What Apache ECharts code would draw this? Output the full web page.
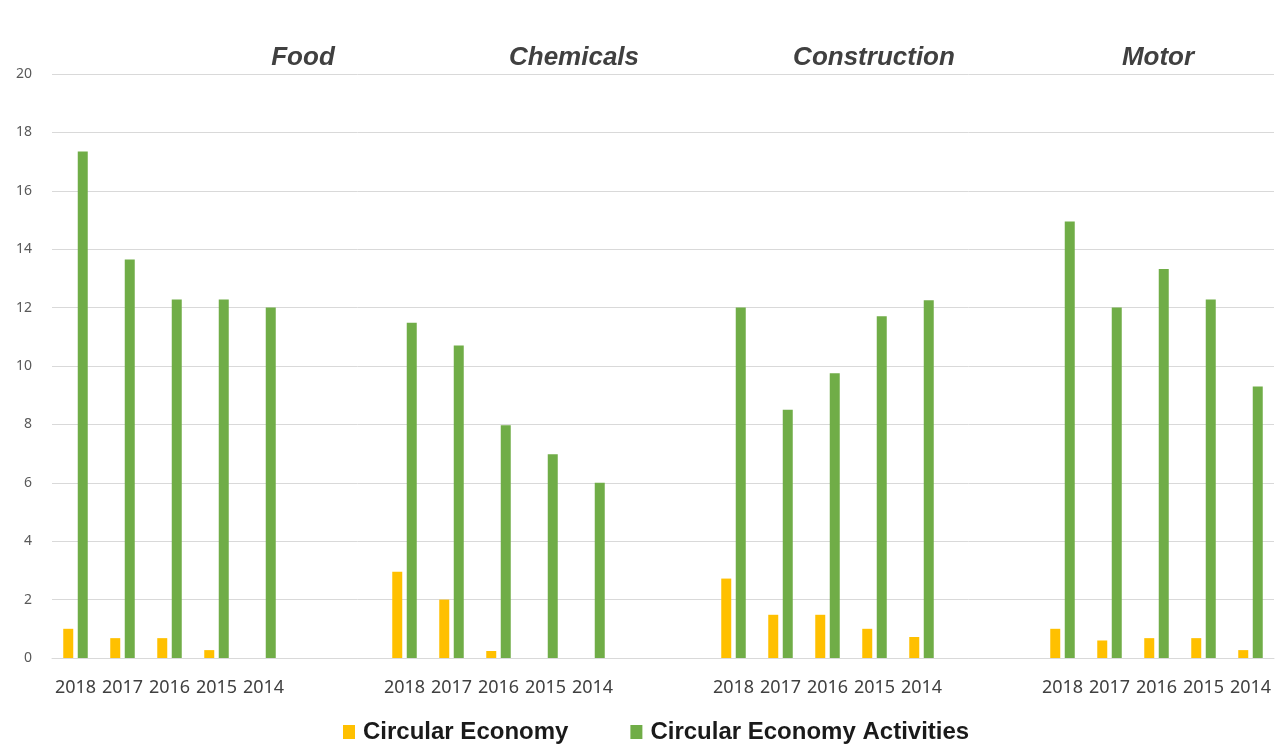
<!DOCTYPE html>
<html>
<head>
<meta charset="utf-8">
<script src="https://cdn.jsdelivr.net/npm/echarts@6/dist/echarts.min.js"></script>
<style>
  html, body { margin: 0; padding: 0; background: #ffffff; }
  #chart { width: 1278px; height: 745px; }
</style>
</head>
<body>
<div id="chart"></div>
<script>
// ---- data ----
const years = ['2018', '2017', '2016', '2015', '2014'];
const sectors = ['Food', 'Chemicals', 'Construction', 'Motor'];

const ceFood = [1.0, 0.68, 0.68, 0.27, 0];
const ceChemicals = [2.95, 2.0, 0.24, 0, 0];
const ceConstruction = [2.72, 1.48, 1.48, 1.0, 0.72];
const ceMotor = [1.0, 0.6, 0.68, 0.68, 0.27];

const ceaFood = [17.35, 13.65, 12.28, 12.28, 12.0];
const ceaChemicals = [11.48, 10.7, 7.97, 6.98, 6.0];
const ceaConstruction = [12.0, 8.5, 9.75, 11.7, 12.25];
const ceaMotor = [14.95, 12.0, 13.32, 12.28, 9.3];

const yTicks = [0, 2, 4, 6, 8, 10, 12, 14, 16, 18, 20];

// build category axis with two empty slots between sector groups
const gapSlots = 2;
function joinGroups(groups, filler) {
  const out = [];
  groups.forEach((g, i) => {
    out.push(...g);
    if (i < groups.length - 1) for (let k = 0; k < gapSlots; k++) out.push(filler);
  });
  return out;
}
const categories = joinGroups(sectors.map(() => years), '');
const ceData = joinGroups([ceFood, ceChemicals, ceConstruction, ceMotor], null);
const ceaData = joinGroups([ceaFood, ceaChemicals, ceaConstruction, ceaMotor], null);

// sector title placement (pixel centres)
const titleX = [303, 574, 874, 1158];

const chart = echarts.init(document.getElementById('chart'), null, { renderer: 'canvas' });
chart.setOption({
  backgroundColor: '#ffffff',
  animation: false,
  grid: { left: 52, right: 4, top: 74, bottom: 87, containLabel: false },
  legend: {
    top: 720,
    left: 343,
    padding: 0,
    itemWidth: 12,
    itemHeight: 14,
    itemGap: 62,
    icon: 'rect',
    textStyle: { fontFamily: 'Liberation Sans', fontWeight: 'bold', fontSize: 24, color: '#1a1a1a', padding: [0, 0, 0, 3] },
    data: ['Circular Economy', 'Circular Economy Activities']
  },
  xAxis: {
    type: 'category',
    data: categories,
    axisLine: { show: true, lineStyle: { color: '#d9d9d9', width: 1 } },
    axisTick: { show: false },
    axisLabel: {
      interval: 0,
      margin: 21,
      fontFamily: 'Noto Sans',
      fontSize: 18,
      color: '#404040'
    }
  },
  yAxis: {
    type: 'value',
    min: yTicks[0],
    max: yTicks[yTicks.length - 1],
    interval: 2,
    axisLine: { show: false },
    axisTick: { show: false },
    axisLabel: { margin: 20, fontFamily: 'Noto Sans', fontSize: 14, color: '#595959' },
    splitLine: { lineStyle: { color: '#d9d9d9', width: 1 } }
  },
  graphic: sectors.map((s, i) => ({
    type: 'text',
    x: titleX[i],
    y: 58,
    style: {
      text: s,
      align: 'center',
      verticalAlign: 'middle',
      fontFamily: 'Liberation Sans',
      fontStyle: 'italic',
      fontWeight: 'bold',
      fontSize: 26,
      fill: '#404040'
    }
  })),
  series: [
    {
      name: 'Circular Economy',
      type: 'bar',
      data: ceData,
      barWidth: 10,
      barGap: '45%',
      itemStyle: { color: '#FFC000' }
    },
    {
      name: 'Circular Economy Activities',
      type: 'bar',
      data: ceaData,
      barWidth: 10,
      barGap: '45%',
      itemStyle: { color: '#70AD47' }
    }
  ]
});
</script>
</body>
</html>
